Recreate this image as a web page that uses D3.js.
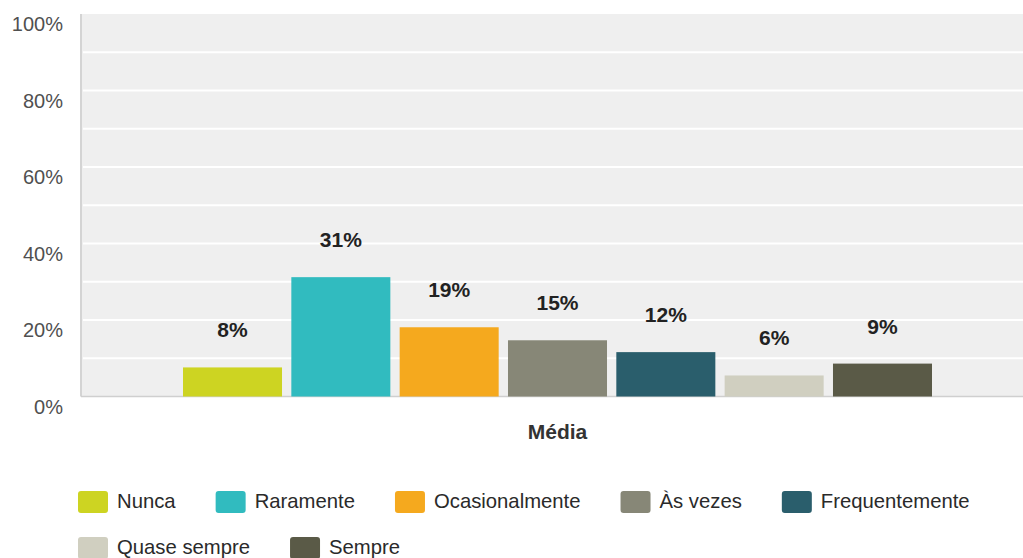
<!DOCTYPE html>
<html><head><meta charset="utf-8">
<script src="https://cdn.jsdelivr.net/npm/d3@7"></script>
<style>
html,body{margin:0;padding:0;background:#fff;}
svg{display:block;font-family:"Liberation Sans",Arial,sans-serif;}
</style></head>
<body>
<svg id="chart" width="1023" height="558"></svg>
<script>
const categories = ["Nunca","Raramente","Ocasionalmente","Às vezes","Frequentemente","Quase sempre","Sempre"];
const values = [7.6, 31.2, 18.1, 14.7, 11.6, 5.5, 8.6];
const valueLabels = ["8%","31%","19%","15%","12%","6%","9%"];
const colors = ["#cdd422","#31bbbf","#f5a91e","#878777","#2a5e6c","#d0cfc0","#5a5a47"];
const yTicks = [0,20,40,60,80,100];
const gridTicks = [10,20,30,40,50,60,70,80,90];
const xAxisTitle = "Média";

const svg = d3.select("#chart");
const plot = {left:81, right:1023, top:14, bottom:396.5};

const y = d3.scaleLinear().domain([0,100]).range([plot.bottom, plot.top]);
const x = d3.scaleBand().domain(categories).range([183, 932]).paddingInner(0.086).paddingOuter(0);

// plot background
svg.append("rect").attr("x",plot.left).attr("y",plot.top)
  .attr("width",plot.right-plot.left).attr("height",plot.bottom-plot.top)
  .attr("fill","#efefef");

// gridlines
svg.append("g").selectAll("line").data(gridTicks).join("line")
  .attr("x1",plot.left+2).attr("x2",plot.right)
  .attr("y1",d=>y(d)).attr("y2",d=>y(d))
  .attr("stroke","#ffffff").attr("stroke-width",2);

// axes lines
svg.append("line").attr("x1",plot.left).attr("x2",plot.left)
  .attr("y1",plot.top).attr("y2",plot.bottom)
  .attr("stroke","#d4d4d4").attr("stroke-width",2);
svg.append("line").attr("x1",plot.left).attr("x2",plot.right)
  .attr("y1",plot.bottom).attr("y2",plot.bottom)
  .attr("stroke","#cfcfcf").attr("stroke-width",1.5);

// y tick labels
svg.append("g").selectAll("text").data(yTicks).join("text")
  .attr("x",63).attr("y",d=>y(d)+17)
  .attr("text-anchor","end")
  .attr("font-size",20).attr("fill","#505050")
  .text(d=>d+"%");

// bars
svg.append("g").selectAll("rect").data(values).join("rect")
  .attr("x",(d,i)=>x(categories[i]))
  .attr("width",x.bandwidth())
  .attr("y",d=>y(d))
  .attr("height",d=>y(0)-y(d))
  .attr("fill",(d,i)=>colors[i]);

// value labels
svg.append("g").selectAll("text").data(values).join("text")
  .attr("x",(d,i)=>x(categories[i])+x.bandwidth()/2)
  .attr("y",d=>y(d)-30)
  .attr("text-anchor","middle")
  .attr("font-size",21).attr("font-weight","bold").attr("fill","#222")
  .text((d,i)=>valueLabels[i]);

// x axis title
svg.append("text").attr("x",(x.range()[0]+x.range()[1])/2).attr("y",439)
  .attr("text-anchor","middle").attr("font-size",21).attr("font-weight","bold")
  .attr("fill","#333").text(xAxisTitle);

// legend
const legend = svg.append("g");
const rows = [[0,1,2,3,4],[5,6]];
const rowY = [491, 537];
rows.forEach((row,r)=>{
  let cx = 78;
  row.forEach(i=>{
    const g = legend.append("g").attr("transform",`translate(${cx},${rowY[r]})`);
    g.append("rect").attr("width",30).attr("height",22).attr("rx",3).attr("fill",colors[i]);
    const t = g.append("text").attr("x",39).attr("y",17).attr("font-size",20.3).attr("fill","#2a2a2a").text(categories[i]);
    const w = t.node().getComputedTextLength();
    cx += 39 + w + 40;
  });
});
</script>
</body></html>
